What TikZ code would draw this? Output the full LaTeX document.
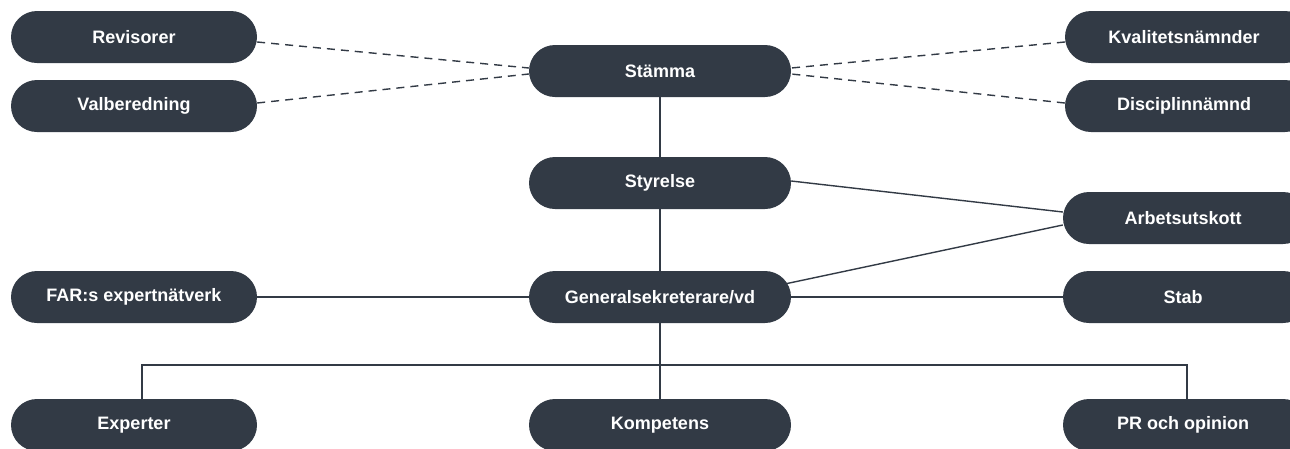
\documentclass[tikz,border=0pt]{standalone}
\usepackage{fontspec}
\setmainfont{Liberation Sans}
\begin{document}
\begin{tikzpicture}[x=1pt,y=-1pt,
  box/.style={fill=boxc, rounded corners=26pt, minimum height=52pt, inner sep=0pt,
    text=white, font=\bfseries\fontsize{18}{20}\selectfont},
  side/.style={box, minimum width=246pt},
  mid/.style={box, minimum width=262pt},
  link/.style={draw=boxc, line width=1.4pt},
  dlink/.style={link, dash pattern=on 8pt off 6pt}]
\definecolor{boxc}{HTML}{323A45}
\useasboundingbox (0,0) rectangle (1290,448);
\clip (0,0) rectangle (1290,448);
% nodes
\node[side] (rev) at (134,37) {Revisorer};
\node[side] (val) at (134,106) {Valberedning};
\node[mid] (stamma) at (660,71) {Stämma};
\node[side] (kval) at (1188,37) {\hspace*{-8pt}Kvalitetsnämnder};
\node[side] (disc) at (1188,106) {\hspace*{-8pt}Disciplinnämnd};
\node[mid] (styr) at (660,183) {Styrelse};
\node[side] (arb) at (1186,218) {\hspace*{-6pt}Arbetsutskott};
\node[side] (far) at (134,297) {FAR:s expertnätverk};
\node[mid] (gen) at (660,297) {Generalsekreterare/vd};
\node[side] (stab) at (1186,297) {\hspace*{-6pt}Stab};
\node[side] (exp) at (134,425) {Experter};
\node[mid] (komp) at (660,425) {Kompetens};
\node[side] (pr) at (1186,425) {\hspace*{-6pt}PR och opinion};
% coordinates
\coordinate (busL) at (142,365);
\coordinate (busR) at (1187,365);
% dashed
\draw[dlink] (rev.east |- 0,42) -- (stamma.west |- 0,68);
\draw[dlink] (val.east |- 0,103) -- (stamma.west |- 0,74);
\draw[dlink] (kval.west |- 0,42) -- (stamma.east |- 0,68);
\draw[dlink] (disc.west |- 0,103) -- (stamma.east |- 0,74);
% solid
\draw[link] (stamma.south) -- (styr.north);
\draw[link] (styr.south) -- (gen.north);
\draw[link] (gen.south) -- (komp.north);
\draw[link] (styr.east |- 0,181) -- (arb.west |- 0,212);
\draw[link] (780,285) -- (arb.west |- 0,225);
\draw[link] (far.east) -- (gen.west);
\draw[link] (gen.east) -- (stab.west);
\draw[link] (busL |- exp.north) -- (busL) -- (busR) -- (busR |- pr.north);
\end{tikzpicture}
\end{document}
